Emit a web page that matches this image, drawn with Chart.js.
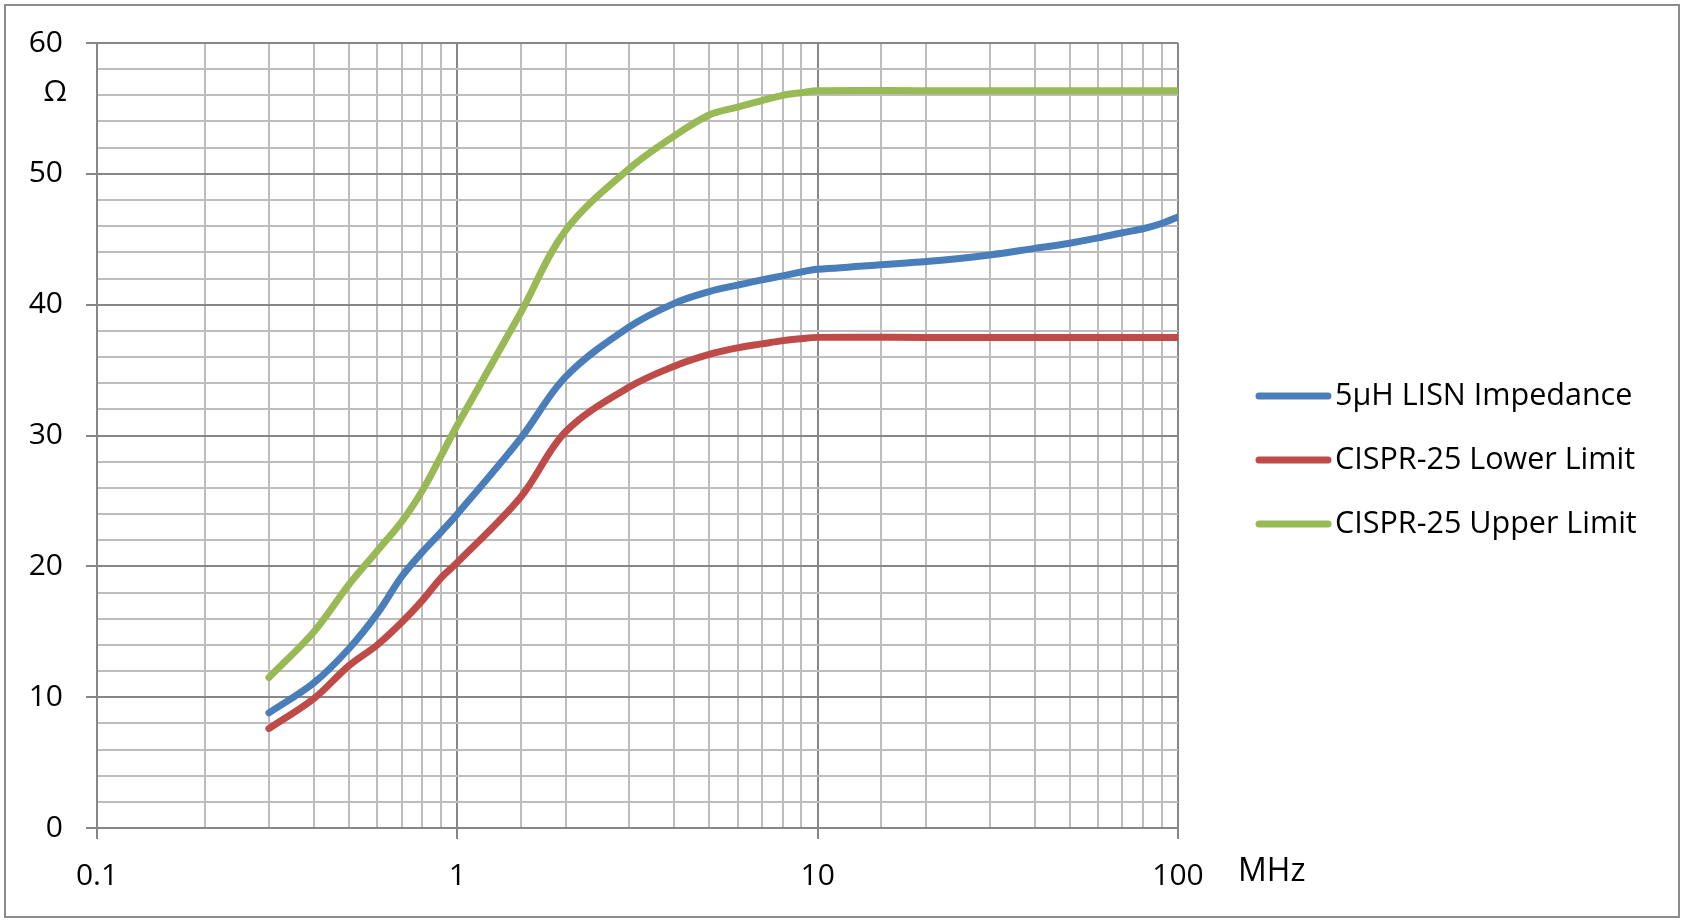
<!DOCTYPE html>
<html>
<head>
<meta charset="utf-8">
<script src="https://cdn.jsdelivr.net/npm/chart.js@4"></script>
<style>
  html, body { margin:0; padding:0; background:#fff; }
  #wrap { width:1684px; height:922px; position:relative; }
</style>
</head>
<body>
<div id="wrap"><canvas id="lisnChart"></canvas></div>
<script>
// frequencies in MHz
const freqs = [0.3,0.4,0.5,0.6,0.7,0.8,0.9,1,1.5,2,3,4,5,6,7,8,9,10,20,30,40,50,60,70,80,90,100];
// impedance in ohms
const lisnImpedance = [8.8,11.1,13.7,16.4,19.2,21.1,22.6,24.0,29.8,34.5,38.3,40.1,41.0,41.5,41.9,42.2,42.5,42.7,43.3,43.8,44.3,44.7,45.1,45.5,45.8,46.2,46.7];
const lowerLimit = [7.6,9.9,12.4,14.0,15.7,17.4,19.1,20.3,25.3,30.3,33.7,35.3,36.2,36.7,37.0,37.25,37.4,37.5,37.5,37.5,37.5,37.5,37.5,37.5,37.5,37.5,37.5];
const upperLimit = [11.5,15.0,18.6,21.2,23.4,25.8,28.4,30.8,39.4,45.7,50.4,52.9,54.5,55.1,55.6,56.0,56.2,56.35,56.35,56.35,56.35,56.35,56.35,56.35,56.35,56.35,56.35];

const seriesNames = ['5\u00b5H LISN Impedance','CISPR-25 Lower Limit','CISPR-25 Upper Limit'];
const seriesColors = ['#4a7ebb','#be4b48','#98b954'];
const xTickLabels = [0.1, 1, 10, 100];
const yTickLabels = [0,10,20,30,40,50,60];

const FONT = '"Open Sans", sans-serif';
const majorGrid = '#878787', minorGrid = '#bdbdbd';

const toPoints = vals => freqs.map((f,i)=>({x:f, y:vals[i]}));
const isDecade = v => Math.abs(Math.log10(v) - Math.round(Math.log10(v))) < 1e-6;

// frame, omega unit label, MHz label and legend
const extras = {
  id:'extras',
  beforeDraw(chart){
    const c = chart.ctx;
    c.save();
    c.fillStyle = '#fff';
    c.fillRect(0,0,chart.width,chart.height);
    c.restore();
  },
  afterDraw(chart){
    const c = chart.ctx, a = chart.chartArea;
    const ys = chart.scales.y;
    c.save();
    c.strokeStyle = '#8c8c8c'; c.lineWidth = 2;
    c.strokeRect(5,5,chart.width-10,chart.height-10);

    c.fillStyle = '#000';
    c.font = '30px ' + FONT;
    c.textAlign = 'right'; c.textBaseline = 'middle';
    c.fillText('\u03a9', a.left - 30, ys.getPixelForValue(56.2));

    c.font = '32px ' + FONT;
    c.textAlign = 'left';
    c.fillText('MHz', a.right + 60, a.bottom + 44);

    // legend
    c.font = '30.5px ' + FONT;
    chart.data.datasets.forEach((ds,i)=>{
      const y = a.top + 353 + i*64;
      c.strokeStyle = ds.borderColor; c.lineWidth = 7; c.lineCap = 'round';
      c.beginPath(); c.moveTo(a.right + 81, y); c.lineTo(a.right + 150, y); c.stroke();
      c.fillText(ds.label, a.right + 157, y);
    });
    c.restore();
  }
};

new Chart(document.getElementById('lisnChart'), {
  type:'line',
  data:{
    datasets:[lisnImpedance, lowerLimit, upperLimit].map((vals,i)=>({
      label:seriesNames[i],
      data:toPoints(vals),
      borderColor:seriesColors[i],
      backgroundColor:seriesColors[i],
      borderWidth:7,
      borderCapStyle:'round',
      borderJoinStyle:'round',
      pointRadius:0,
      tension:0.35,
      fill:false
    }))
  },
  options:{
    responsive:true, maintainAspectRatio:false, animation:false,
    layout:{ padding:{ top:43, right:506, left:0, bottom:0 } },
    plugins:{ legend:{display:false}, tooltip:{enabled:false} },
    scales:{
      x:{
        type:'logarithmic', min:0.1, max:100,
        afterFit(s){ s.height = 94; },
        border:{ color:majorGrid, width:2 },
        grid:{
          lineWidth:2, tickLength:11,
          color:ctx => (ctx.tick && isDecade(ctx.tick.value)) ? majorGrid : minorGrid,
          tickColor:ctx => (ctx.tick && isDecade(ctx.tick.value)) ? majorGrid : 'rgba(0,0,0,0)'
        },
        ticks:{
          autoSkip:false, maxRotation:0, padding:19, color:'#000',
          font:{ family:FONT, size:30 },
          callback:v => xTickLabels.some(t=>Math.abs(t-v)<1e-9) ? String(v) : ''
        }
      },
      y:{
        min:0, max:60,
        afterFit(s){ s.width = 97; },
        border:{ color:majorGrid, width:2 },
        grid:{
          lineWidth:2, tickLength:11,
          color:ctx => (ctx.tick && ctx.tick.value % 10 === 0) ? majorGrid : minorGrid,
          tickColor:ctx => (ctx.tick && ctx.tick.value % 10 === 0) ? majorGrid : 'rgba(0,0,0,0)'
        },
        ticks:{
          stepSize:2, autoSkip:false, padding:23, color:'#000',
          font:{ family:FONT, size:30 },
          callback:v => yTickLabels.includes(v) ? String(v) : ''
        }
      }
    }
  },
  plugins:[extras]
});
</script>
</body>
</html>
